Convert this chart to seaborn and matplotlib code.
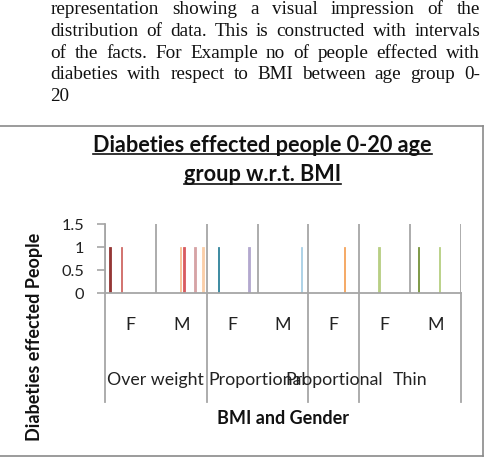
import pandas as pd
import numpy as np
import matplotlib.pyplot as plt
import matplotlib.transforms as mtransforms
from matplotlib.lines import Line2D
import seaborn as sns

# ---- data ----
categories = ['OW-F', 'OW-M', 'P1-F', 'P1-M', 'P2-F', 'T-F', 'T-M']
gender_labels = ['F', 'M', 'F', 'M', 'F', 'F', 'M']
bmi_groups = ['Over weight', 'Proportional', 'Proportional', 'Thin']
group_sizes = [2, 2, 1, 2]

# every person is its own series in the original sheet -> one thin bar each
bar_category = ['OW-F', 'OW-F', 'OW-M', 'OW-M', 'OW-M', 'OW-M', 'P1-F', 'P1-F',
                'P1-M', 'P2-F', 'T-F', 'T-M', 'T-M']
bar_series = [2, 9, 14, 16, 23, 28, 6, 25, 26, 21, 11, 4, 17]
bar_value = [1, 1, 1, 1, 1, 1, 1, 1, 1, 1, 1, 1, 1]
n_series = 30

series_colors = {2: '#953735', 9: '#d06a66', 14: '#f9c294', 16: '#d95b60',
                 23: '#d6a3a5', 28: '#fbcfa9', 6: '#31849b', 25: '#b3a8cf',
                 26: '#a9d0e6', 21: '#f5a45c', 11: '#b8cf84', 4: '#77933c',
                 17: '#b7d083'}

para_lines = ['representation showing a visual impression of the',
              'distribution of data. This is constructed with intervals',
              'of the facts. For Example no of people effected with',
              'diabeties with respect to BMI between age group 0-',
              '20']

# ---- build table ----
df = pd.DataFrame({'category': bar_category,
                   'series': ['s%02d' % s for s in bar_series],
                   'value': bar_value})
hue_order = ['s%02d' % i for i in range(n_series)]
palette = {'s%02d' % i: series_colors.get(i, '#999999') for i in range(n_series)}

W, H = 489, 466
fig = plt.figure(figsize=(W / 100, H / 100), dpi=100)
plt.rcParams['font.family'] = ['Lato', 'DejaVu Sans']

ax = fig.add_axes([105 / W, 1 - 293.3 / H, (461 - 105) / W, (293.3 - 224.3) / H])
sns.barplot(data=df, x='category', y='value', hue='series', order=categories,
            hue_order=hue_order, palette=palette, width=n_series / (n_series + 1.5),
            dodge=True, saturation=1, linewidth=0, legend=False, errorbar=None, ax=ax)
# thicken the hairline bars a little, like the original
for p in ax.patches:
    p.set_edgecolor(p.get_facecolor())
    p.set_linewidth(0.6)

grid_c = '#a6a6a6'
ax.set_xlim(-0.5, len(categories) - 0.5)
ax.set_ylim(0, 1.5)
ax.set_yticks([0, 0.5, 1, 1.5])
ax.set_yticklabels(['0', '0.5', '1', '1.5'])
ax.set_xticks(range(len(categories)))
ax.set_xticklabels(gender_labels)
ax.set_xticks(np.arange(-0.5, len(categories)), minor=True)
ax.grid(which='minor', axis='x', color=grid_c, linewidth=1.3)
ax.set_axisbelow(True)
ax.tick_params(axis='x', which='both', length=0, pad=17, labelsize=12.8, labelcolor='#222222')
ax.tick_params(axis='y', length=6, width=1.2, color=grid_c, pad=9, labelsize=11.8, labelcolor='#222222')
ax.set_xlabel('')
ax.set_ylabel('')
for side in ['top', 'right']:
    ax.spines[side].set_visible(False)
for side in ['left', 'bottom']:
    ax.spines[side].set_color(grid_c)
    ax.spines[side].set_linewidth(1.3)

# group separators and group names below the axis
trans = mtransforms.blended_transform_factory(ax.transData, fig.transFigure)
bounds = -0.5 + np.cumsum([0] + group_sizes)
for b in bounds:
    ax.add_line(Line2D([b, b], [1 - 293.3 / H, 1 - 402 / H], transform=trans,
                       color=grid_c, linewidth=1.3, clip_on=False))
for name, lo, hi in zip(bmi_groups, bounds[:-1], bounds[1:]):
    ax.text((lo + hi) / 2, 1 - 380 / H, name, transform=trans, ha='center', va='center',
            fontsize=12.8, color='#222222')

fig.text(283 / W, 1 - 419 / H, 'BMI and Gender', ha='center', va='center',
         fontsize=13, fontweight='bold', color='#111111')
fig.text(35 / W, 1 - 337 / H, 'Diabeties effected People', ha='center', va='center',
         rotation=90, fontsize=13, fontweight='bold', color='#111111')

# title with underline
renderer = fig.canvas.get_renderer()
for txt, base in [('Diabeties effected people 0-20 age', 151.7),
                  ('group w.r.t. BMI', 181)]:
    t = fig.text(262.5 / W, 1 - base / H, txt, ha='center', va='baseline',
                 fontsize=15.6, fontweight='bold', color='#111111')
    bb = t.get_window_extent(renderer)
    uy = 1 - (base + 2.6) / H
    fig.add_artist(Line2D([bb.x0 / W, bb.x1 / W], [uy, uy], color='#111111', linewidth=1.2))

# chart box border
bc = '#8a8a8a'
fig.add_artist(Line2D([0, 483 / W], [1 - 126 / H] * 2, color=bc, linewidth=1.2))
fig.add_artist(Line2D([483 / W] * 2, [1 - 126 / H, 1 - 456 / H], color=bc, linewidth=1.2))
fig.add_artist(Line2D([0, 483 / W], [1 - 456 / H] * 2, color=bc, linewidth=1.2))

# justified paragraph above the chart
x_left, x_right = 50.5, 480
for i, line in enumerate(para_lines):
    base = 14.5 + i * 21.6
    words = line.split()
    texts = [fig.text(0, 1 - base / H, w, va='baseline', ha='left', fontsize=13.8,
                      family='Liberation Serif', color='#111111') for w in words]
    widths = [t.get_window_extent(renderer).width for t in texts]
    gap = (x_right - x_left - sum(widths)) / max(len(words) - 1, 1) if len(words) > 1 else 0
    x = x_left
    for t, w in zip(texts, widths):
        t.set_x(x / W)
        x += w + gap

fig.savefig('out.png', dpi=100)
